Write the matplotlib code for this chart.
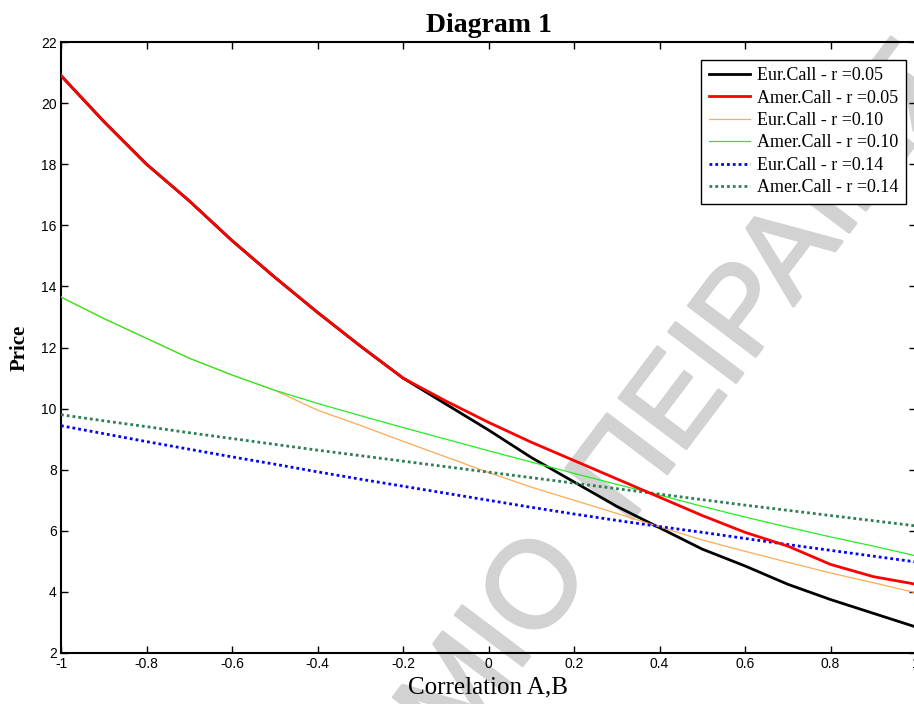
import matplotlib
matplotlib.use("Agg")
import matplotlib.pyplot as plt
import matplotlib.patheffects as pe
import numpy as np

# ---- data ----
corr = [-1.0, -0.9, -0.8, -0.7, -0.6, -0.5, -0.4, -0.3, -0.2, -0.1, 0.0,
        0.1, 0.2, 0.3, 0.4, 0.5, 0.6, 0.7, 0.8, 0.9, 1.0]

eur_005 = [20.9, 19.4, 18.0, 16.8, 15.5, 14.3, 13.15, 12.05, 11.0, 10.15, 9.3,
           8.4, 7.6, 6.8, 6.1, 5.4, 4.85, 4.25, 3.75, 3.3, 2.85]
amer_005 = [20.9, 19.4, 18.0, 16.8, 15.5, 14.3, 13.15, 12.05, 11.0, 10.25, 9.55,
            8.9, 8.3, 7.7, 7.1, 6.5, 5.95, 5.5, 4.9, 4.5, 4.25]
eur_010 = [13.65, 12.95, 12.3, 11.65, 11.1, 10.6, 9.95, 9.45, 8.93, 8.42, 7.91,
           7.43, 7.0, 6.57, 6.13, 5.7, 5.33, 4.97, 4.62, 4.3, 3.97]
amer_010 = [13.65, 12.95, 12.3, 11.65, 11.1, 10.6, 10.17, 9.77, 9.38, 9.0, 8.62,
            8.25, 7.88, 7.52, 7.17, 6.8, 6.45, 6.12, 5.8, 5.5, 5.18]
eur_014 = [9.44, 9.18, 8.92, 8.67, 8.42, 8.18, 7.93, 7.69, 7.46, 7.23, 7.0,
           6.77, 6.55, 6.34, 6.14, 5.95, 5.75, 5.55, 5.36, 5.17, 4.98]
amer_014 = [9.8, 9.6, 9.41, 9.21, 9.02, 8.83, 8.64, 8.46, 8.28, 8.1, 7.92,
            7.74, 7.56, 7.38, 7.2, 7.02, 6.84, 6.67, 6.5, 6.33, 6.16]

labels = ["Eur.Call - r =0.05", "Amer.Call - r =0.05",
          "Eur.Call - r =0.10", "Amer.Call - r =0.10",
          "Eur.Call - r =0.14", "Amer.Call - r =0.14"]

xticks = [-1, -0.8, -0.6, -0.4, -0.2, 0, 0.2, 0.4, 0.6, 0.8, 1]
xtick_labels = ["-1", "-0.8", "-0.6", "-0.4", "-0.2", "0", "0.2", "0.4", "0.6", "0.8", "1"]
yticks = [2, 4, 6, 8, 10, 12, 14, 16, 18, 20, 22]

watermark_1 = "ΠΑΝΕΠΙΣΤΗΜΙΟ"
watermark_2 = "ΠΕΙΡΑΙΩΣ"

# ---- figure ----
W, H = 914, 704
fig = plt.figure(figsize=(W / 100, H / 100), dpi=100)
ax = fig.add_axes([61/W, 51/H, 855/W, 611/H])

serif = ["Liberation Serif", "DejaVu Serif"]
sans = ["Liberation Sans", "DejaVu Sans"]

dot = (0, (1, 1.1))
ax.plot(corr, eur_005, color="black", lw=2.0, label=labels[0], zorder=3)
ax.plot(corr, amer_005, color="#ff0000", lw=2.0, label=labels[1], zorder=4)
ax.plot(corr, eur_010, color="#ffaa55", lw=0.9, label=labels[2], zorder=3)
ax.plot(corr, amer_010, color="#22ee22", lw=0.9, label=labels[3], zorder=3)
ax.plot(corr, eur_014, color="#0000ff", lw=2.0, ls=dot, label=labels[4], zorder=3)
ax.plot(corr, amer_014, color="#2e7d55", lw=2.0, ls=dot, label=labels[5], zorder=3)

ax.set_xlim(-1, 1)
ax.set_ylim(2, 22)
ax.set_xticks(xticks)
ax.set_xticklabels(xtick_labels)
ax.set_yticks(yticks)
for lab in ax.get_xticklabels() + ax.get_yticklabels():
    lab.set_family(sans)
    lab.set_fontsize(10)
ax.tick_params(direction="in", length=5, width=1, top=True, right=True, pad=3)
for sp in ax.spines.values():
    sp.set_linewidth(1.5)

ax.set_title("Diagram 1", fontsize=20, fontweight="bold", family=serif, pad=7)
ax.set_xlabel("Correlation A,B", fontsize=18, family=serif, labelpad=4)
ax.set_ylabel("Price", fontsize=15, fontweight="bold", family=serif, labelpad=8)

leg = ax.legend(loc="upper right", bbox_to_anchor=(906/W, (H-60)/H),
                bbox_transform=fig.transFigure, borderaxespad=0,
                prop={"family": serif, "size": 13}, fancybox=False,
                edgecolor="black", framealpha=1, labelspacing=0.3,
                handlelength=2.3, handletextpad=0.4, borderpad=0.4)
leg.get_frame().set_linewidth(1.0)

# watermark (light grey, rotated, behind the curves)
ang = 53.0
fs = 88.0
px0, py0 = 627.0, 527.0          # start of the second word, pixels from top-left
gap_px = 0.278 * fs * 100 / 72 + 22
dx, dy = np.cos(np.radians(ang)), np.sin(np.radians(ang))
wm_kw = dict(transform=fig.transFigure, fontsize=fs, color="#d2d2d2",
             rotation=ang, rotation_mode="anchor", va="baseline",
             family=sans, clip_on=False, zorder=1,
             path_effects=[pe.withStroke(linewidth=2.2, foreground="#d2d2d2")])
ax.text(px0 / W, (H - py0) / H, watermark_2, ha="left", **wm_kw)
ax.text((px0 - dx * gap_px) / W, (H - py0 - dy * gap_px) / H,
        watermark_1, ha="right", **wm_kw)

fig.savefig("out.png", dpi=100)
